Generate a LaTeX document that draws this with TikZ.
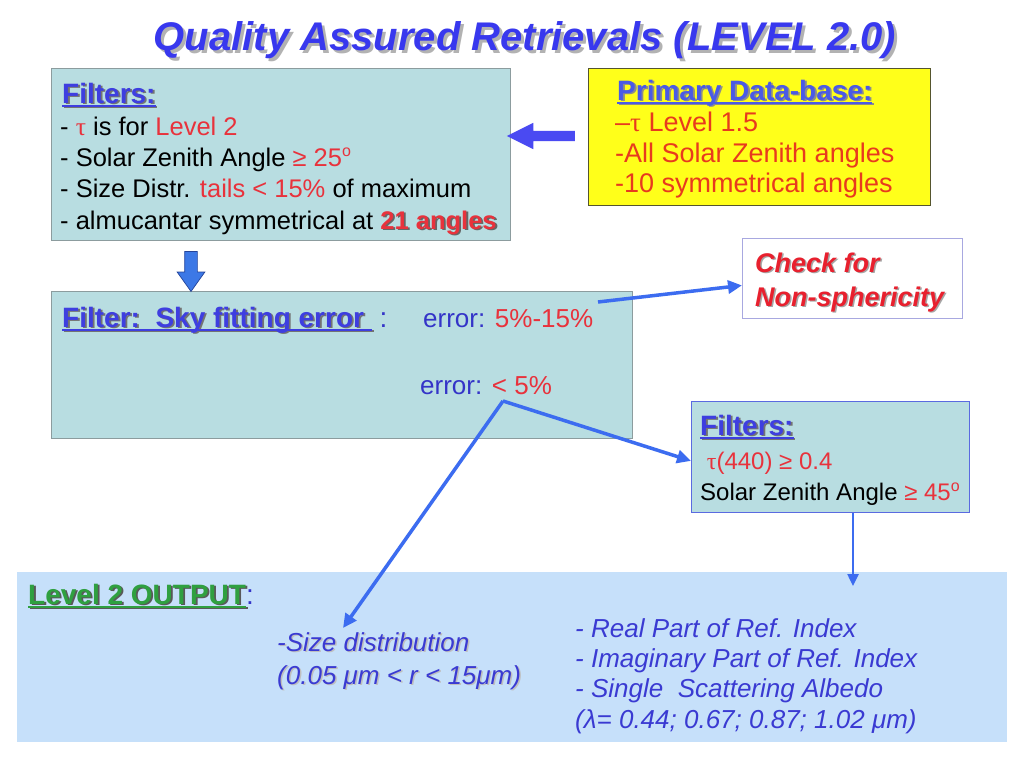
\documentclass[tikz,border=0pt]{standalone}
\usepackage{fontspec}
\setmainfont{Liberation Sans}
\newfontfamily\serifgr{Liberation Serif}
\usetikzlibrary{shapes.arrows,arrows.meta,calc}
\definecolor{tealbox}{HTML}{B8DDE1}
\definecolor{tealedge}{HTML}{8C9C9E}
\definecolor{ttlblue}{HTML}{3838EE}
\definecolor{hdblue}{HTML}{3E3EE0}
\definecolor{pdblue}{HTML}{4A5AE6}
\definecolor{txtred}{HTML}{E8323C}
\definecolor{pdred}{HTML}{E83A1E}
\definecolor{chkred}{HTML}{E8202E}
\definecolor{ylw}{HTML}{FFFF1A}
\definecolor{ylwedge}{HTML}{55552E}
\definecolor{arrblue}{HTML}{3C6CF0}
\definecolor{outbox}{HTML}{C6E0FA}
\definecolor{grn}{HTML}{2FA040}
\definecolor{itblue}{HTML}{3A3AD2}
\definecolor{errblue}{HTML}{3434C8}
\definecolor{blockblue}{HTML}{4A4AF2}
\definecolor{dblue}{HTML}{3C78E6}
\definecolor{dbedge}{HTML}{24449A}
\definecolor{lav}{HTML}{A8A8E0}
\definecolor{f2edge}{HTML}{5A6AE0}
% shadowed text: [offset]{shadow colour}{text colour}{text}
\newcommand\shad[4][1.8pt]{\leavevmode\rlap{\kern#1\raisebox{-#1}{\color{#2}#4}}{\color{#3}#4}}
\newcommand\uline[1]{\setbox0\hbox{#1}\rlap{\rule[-3.5pt]{\wd0}{2pt}}\box0}
\newcommand\tauf{{\serifgr τ}}
\newcommand\degsup{\raisebox{0.36em}{\fontsize{16}{16}\selectfont o}}
\tikzset{
  tbox/.style={draw=tealedge, fill=tealbox, line width=0.8pt, anchor=north west, inner sep=0pt},
  txt/.style={inner sep=0pt, anchor=base west, font=\fontsize{25.5}{30}\selectfont},
  hd/.style={txt, font=\fontsize{28}{32}\selectfont\bfseries},
  ital/.style={txt, text=itblue, font=\fontsize{26}{30}\selectfont\itshape},
  conn/.style={draw=arrblue, line width=3.5pt, -{Triangle[length=14pt,width=13pt]}},
  thinconn/.style={draw=arrblue, line width=2.5pt, -{Triangle[length=12pt,width=11pt]}},
  blockarrow/.style={single arrow, inner sep=0pt, single arrow head indent=0pt},
}
\begin{document}
\begin{tikzpicture}[x=1pt,y=-1pt]
\fill[white] (0,0) rectangle (1024,768);
\useasboundingbox (0,0) rectangle (1024,768);

% title
\node[inner sep=0pt, anchor=base, font=\fontsize{40}{44}\selectfont\bfseries\itshape] (ttl) at (525,50)
  {\shad[3pt]{black!30}{ttlblue}{Quality Assured Retrievals (LEVEL 2.0)}};

% boxes
\node[tbox, minimum width=459pt, minimum height=172pt] (fbox) at (51,68) {};
\node[draw=ylwedge, fill=ylw, line width=0.8pt, anchor=north west, inner sep=0pt,
      minimum width=342pt, minimum height=137pt] (pbox) at (588,68) {};
\node[tbox, minimum width=581pt, minimum height=147pt] (sbox) at (51,291) {};
\node[draw=lav, fill=white, line width=0.8pt, anchor=north west, inner sep=0pt,
      minimum width=220pt, minimum height=80pt] (chk) at (742,238) {};
\node[tbox, draw=f2edge, minimum width=278pt, minimum height=111pt] (gbox) at (691,401) {};
\node[fill=outbox, anchor=north west, inner sep=0pt,
      minimum width=990pt, minimum height=170pt] (obox) at (17,572) {};

% Filters box text
\node[hd] (f0) at (62,103) {\shad{black!55}{hdblue}{\uline{Filters:}}};
\node[txt] (f1) at (60,135) {- {\color{txtred}\tauf} is for {\color{txtred}Level 2}};
\node[txt] (f2) at (60,166) {- Solar Zenith Angle {\color{txtred}≥ 25\degsup}};
\node[txt] (f3) at (60,197) {- Size Distr. {\color{txtred}tails < 15\%} of maximum};
\node[txt] (f4) at (60,229) {- almucantar symmetrical at \shad{black!60}{txtred}{\bfseries 21 angles}};

% Primary data-base text
\node[hd] (p0) at (617,100) {\shad{black!45}{pdblue}{\uline{Primary Data-base:}}};
\node[txt, text=pdred, font=\fontsize{27}{30}\selectfont] (p1) at (615,131) {\textendash\tauf{} Level 1.5};
\node[txt, text=pdred, font=\fontsize{27}{30}\selectfont] (p2) at (615,162) {-All Solar Zenith angles};
\node[txt, text=pdred, font=\fontsize{27}{30}\selectfont] (p3) at (615,192) {-10 symmetrical angles};

% Sky fitting box text
\node[hd] (s0) at (62,327) {\shad{black!55}{hdblue}{\uline{Filter:\ \ Sky fitting error\ }}{\mdseries\color{errblue}\ :}};
\node[txt, font=\fontsize{26}{30}\selectfont] (e1) at (423,327) {{\color{errblue}error: }{\color{txtred}5\%-15\%}};
\node[txt, font=\fontsize{26}{30}\selectfont] (e2) at (420,394) {{\color{errblue}error: }{\color{txtred}< 5\%}};

% Check box text
\node[txt, font=\fontsize{27}{32}\selectfont\bfseries\itshape] (c1) at (755,272) {\shad[1.5pt]{black!35}{chkred}{Check for}};
\node[txt, font=\fontsize{27}{32}\selectfont\bfseries\itshape] (c2) at (755,306) {\shad[1.5pt]{black!35}{chkred}{Non-sphericity}};

% Filters 2 text
\node[hd] (g0) at (700,435) {\shad{black!55}{hdblue}{\uline{Filters:}}};
\node[txt, font=\fontsize{24}{30}\selectfont] (g1) at (700,469) {\color{txtred}\ \tauf(440) ≥ 0.4};
\node[txt, font=\fontsize{24}{30}\selectfont] (g2) at (700,500) {Solar Zenith Angle {\color{txtred}≥ 45\degsup}};

% Output box text
\node[hd] (o0) at (28,604) {\shad{black!65}{grn}{\uline{Level 2 OUTPUT}}{\mdseries\color{errblue}:}};
\node[ital] (o1) at (277,651) {\shad[1.5pt]{black!25}{itblue}{-Size distribution}};
\node[ital] (o2) at (277,684) {\shad[1.5pt]{black!25}{itblue}{(0.05 μm < r < 15μm)}};
\node[ital] (o3) at (575,637) {- Real Part of Ref. Index};
\node[ital] (o4) at (575,667) {- Imaginary Part of Ref. Index};
\node[ital] (o5) at (575,697) {- Single\ \ Scattering Albedo};
\node[ital] (o6) at (575,728) {(λ= 0.44; 0.67; 0.87; 1.02 μm)};

% block arrows
\node[blockarrow, fill=blockblue, shape border rotate=180, inner ysep=5pt,
      single arrow head extend=8pt, single arrow tip angle=53, minimum height=68pt] (la) at (546,136) {};
\node[blockarrow, fill=dblue, draw=dbedge, line width=0.7pt, shape border rotate=270, inner xsep=6pt, inner ysep=6pt,
      single arrow head extend=7.5pt, single arrow tip angle=71, minimum height=40pt] (da) at (191,267) {};

% connectors
\coordinate (e1end) at (598,302);
\coordinate (v) at (503,401);
\coordinate (sz) at (343,628);
\coordinate (dl) at (853,586);
\draw[conn] (e1end) -- ($(chk.west)+(0,7)$);
\draw[conn] (v) -- ($(gbox.west)+(0,4)$);
\draw[conn] (v) -- (sz);
\draw[thinconn] (gbox.south -| dl) -- (dl);
\end{tikzpicture}
\end{document}
